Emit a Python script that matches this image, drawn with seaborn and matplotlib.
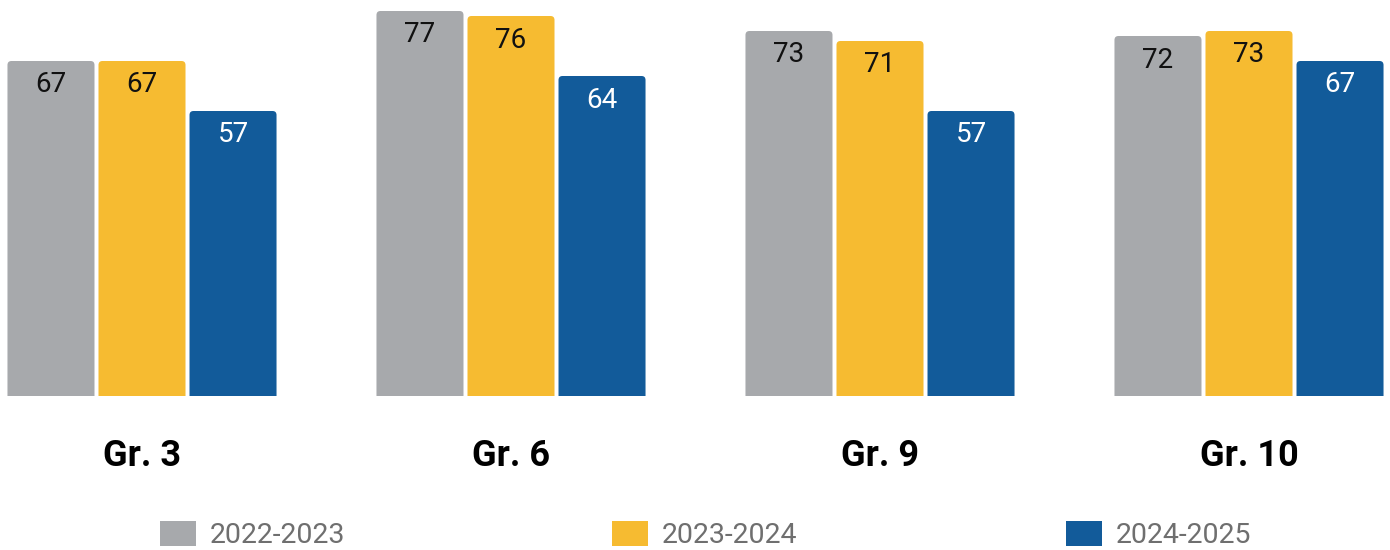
import matplotlib
matplotlib.use("Agg")
import matplotlib.pyplot as plt
from matplotlib.patches import FancyBboxPatch, Patch
import seaborn as sns
import pandas as pd

# Percent of students by grade across three school years
grades = ["Gr. 3", "Gr. 6", "Gr. 9", "Gr. 10"]
years = ["2022-2023", "2023-2024", "2024-2025"]
values_2022_2023 = [67, 77, 73, 72]
values_2023_2024 = [67, 76, 71, 73]
values_2024_2025 = [57, 64, 57, 67]

colors = ["#A7A9AC", "#F6BB31", "#125B9A"]
label_colors = ["#111111", "#111111", "#FFFFFF"]

df = pd.DataFrame({
    "grade": grades * 3,
    "year": [years[0]] * 4 + [years[1]] * 4 + [years[2]] * 4,
    "value": values_2022_2023 + values_2023_2024 + values_2024_2025,
})

sns.set_theme(style="white")
plt.rcParams["font.family"] = ["Roboto", "DejaVu Sans"]

fig = plt.figure(figsize=(13.9, 5.5), dpi=100)
ax = fig.add_axes([0, 0.28, 1, 0.72])

sns.barplot(data=df, x="grade", y="value", hue="year", order=grades,
            hue_order=years, palette=colors, width=0.74, gap=0.044,
            saturation=1, legend=False, ax=ax)

ax.set_xlim(-142 / 369, (1390 - 142) / 369)
ax.set_ylim(0, 79.2)

# Swap plain rectangles for bars with softly rounded top corners
px_x = 1 / 369  # data units per pixel along x
aspect = 369 / 5  # x-pixels-per-unit over y-pixels-per-unit
for container in ax.containers:
    for bar in container:
        x, w, h = bar.get_x(), bar.get_width(), bar.get_height()
        rounded = FancyBboxPatch((x, -2), w, h + 2,
                                 boxstyle=f"round,pad=0,rounding_size={4 * px_x}",
                                 mutation_aspect=aspect,
                                 facecolor=bar.get_facecolor(), edgecolor="none")
        ax.add_patch(rounded)
        bar.set_visible(False)

for container, tc in zip(ax.containers, label_colors):
    ax.bar_label(container, labels=[f"{v:g}" for v in container.datavalues],
                 padding=-27, color=tc, fontsize=20)

for s in ax.spines.values():
    s.set_visible(False)
ax.set_yticks([])
ax.set_xlabel("")
ax.set_ylabel("")
ax.tick_params(axis="x", length=0, pad=30)
for lbl in ax.get_xticklabels():
    lbl.set_fontsize(26)
    lbl.set_fontweight("bold")
    lbl.set_color("#000000")

# Legend entries spread across the bottom
legend_x = [160, 612, 1066]
for year, col, lx in zip(years, colors, legend_x):
    leg = fig.legend(handles=[Patch(facecolor=col, edgecolor="none", label=year)],
                     loc="center left", bbox_to_anchor=(lx / 1390, 1 - 535 / 550),
                     frameon=False, fontsize=20.5, labelcolor="#6F6F6F",
                     handlelength=1.26, handleheight=0.95, handletextpad=0.5,
                     borderpad=0, borderaxespad=0)

fig.savefig("out.png", dpi=100)
